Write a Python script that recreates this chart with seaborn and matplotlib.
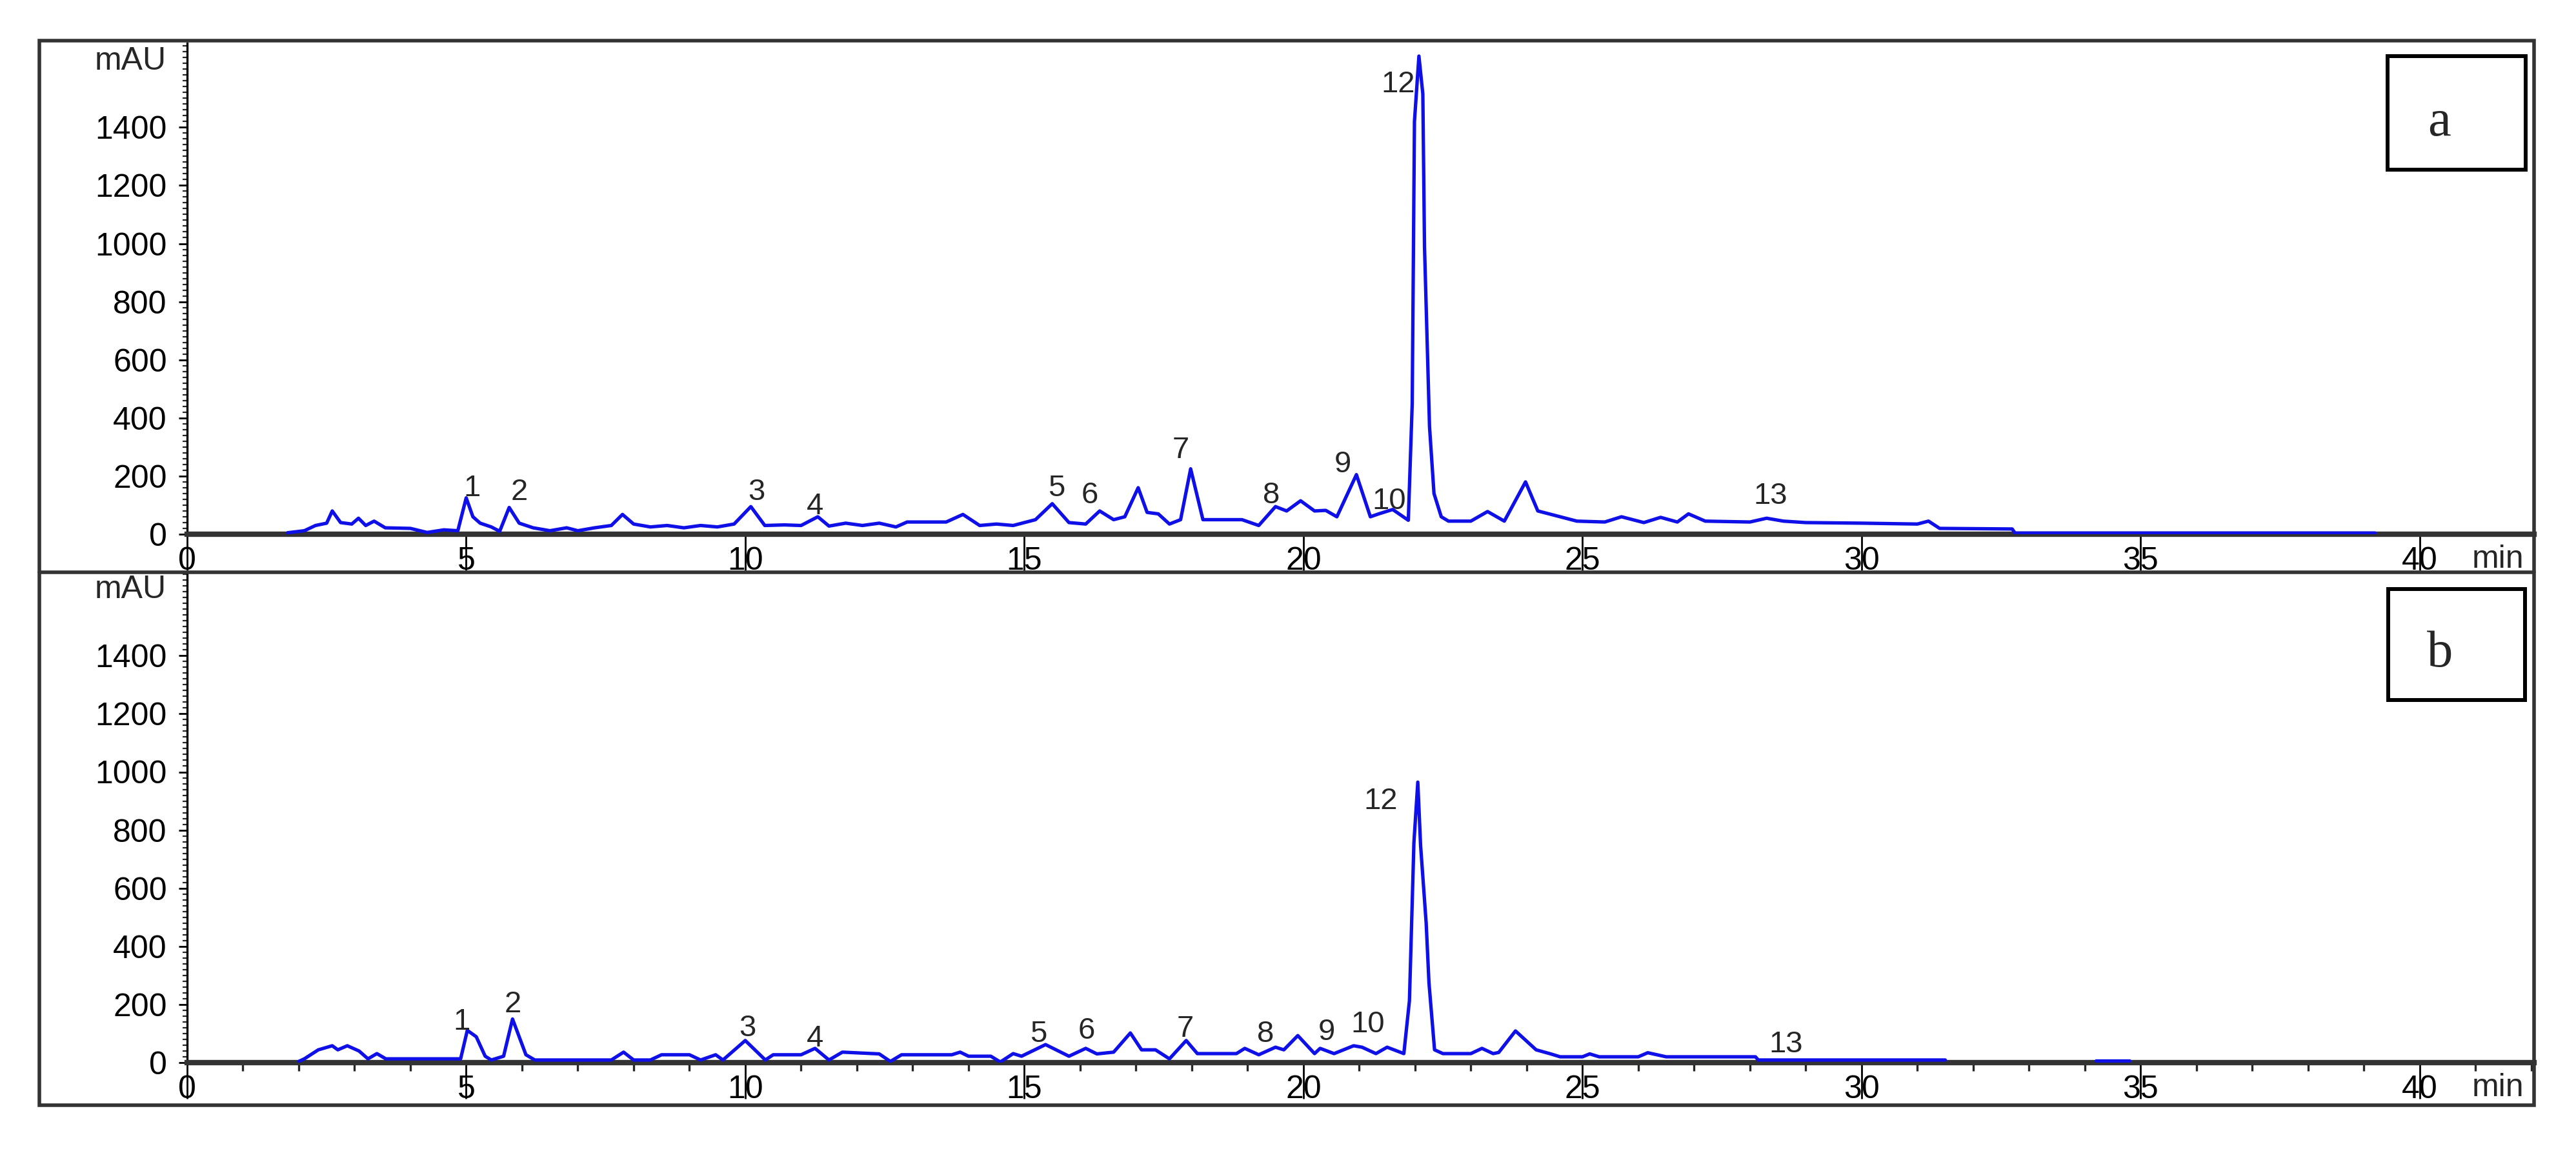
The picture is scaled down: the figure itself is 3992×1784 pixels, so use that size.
import matplotlib
matplotlib.use("Agg")
import matplotlib.pyplot as plt
import pandas as pd
import seaborn as sns
from matplotlib.lines import Line2D
from matplotlib.patches import Rectangle
from matplotlib.ticker import MultipleLocator, NullLocator

# chromatogram a (retention time in min, absorbance in mAU)
time_a = [1.8, 2.1, 2.3, 2.5, 2.6, 2.75, 2.95, 3.07, 3.2, 3.35, 3.55, 4.0, 4.3, 4.6, 4.85,
          5.0, 5.12, 5.25, 5.45, 5.6, 5.77, 5.95, 6.2, 6.5, 6.8, 7.0, 7.3, 7.6, 7.8, 8.0,
          8.3, 8.6, 8.9, 9.2, 9.5, 9.8, 10.1, 10.35, 10.7, 11.0, 11.3, 11.5, 11.8, 12.1, 12.4,
          12.7, 12.9, 13.6, 13.9, 14.2, 14.5, 14.8, 15.2, 15.5, 15.8, 16.1, 16.35, 16.6, 16.8, 17.04,
          17.2, 17.4, 17.6, 17.8, 17.98, 18.2, 18.9, 19.2, 19.5, 19.7, 19.95, 20.2, 20.4, 20.6, 20.95,
          21.2, 21.35, 21.6, 21.88, 21.95, 21.99, 22.07, 22.14, 22.17, 22.26, 22.34, 22.47, 22.6, 23.0, 23.3,
          23.6, 23.98, 24.2, 24.5, 24.7, 24.9, 25.4, 25.7, 26.1, 26.4, 26.7, 26.9, 27.2, 28.0, 28.3,
          28.6, 29.0, 30.0, 31.0, 31.2, 31.4, 32.7, 32.75, 39.2]
mau_a = [5, 12, 30, 38, 80, 40, 35, 55, 30, 45, 22, 20, 6, 15, 12,
         125, 60, 38, 25, 10, 92, 38, 22, 12, 22, 12, 22, 30, 68, 35,
         25, 30, 22, 30, 25, 35, 95, 30, 32, 30, 60, 28, 38, 30, 38,
         25, 42, 42, 68, 30, 35, 30, 50, 105, 40, 35, 80, 50, 60, 160,
         75, 70, 35, 50, 225, 50, 50, 30, 95, 80, 115, 80, 82, 60, 205,
         60, 70, 85, 48, 450, 1420, 1645, 1515, 990, 370, 140, 60, 45, 45, 78,
         45, 180, 80, 65, 55, 45, 42, 60, 40, 58, 42, 70, 45, 42, 55,
         45, 40, 38, 35, 45, 20, 18, 4, 4]

# chromatogram b
time_b = [2.0, 2.1, 2.35, 2.6, 2.7, 2.87, 3.08, 3.24, 3.4, 3.56, 4.9, 5.02, 5.18, 5.34, 5.45,
          5.67, 5.83, 6.07, 6.23, 7.6, 7.82, 8.0, 8.3, 8.5, 9.0, 9.2, 9.47, 9.6, 10.0, 10.36,
          10.5, 11.0, 11.25, 11.5, 11.74, 12.4, 12.6, 12.8, 13.7, 13.85, 14.0, 14.4, 14.57, 14.8, 14.95,
          15.38, 15.8, 16.1, 16.3, 16.6, 16.9, 17.1, 17.35, 17.6, 17.9, 18.1, 18.8, 18.95, 19.2, 19.5,
          19.65, 19.9, 20.2, 20.3, 20.55, 20.9, 21.05, 21.3, 21.5, 21.8, 21.9, 21.98, 22.05, 22.1, 22.2,
          22.25, 22.35, 22.5, 23.0, 23.2, 23.4, 23.5, 23.8, 24.17, 24.43, 24.6, 25.0, 25.13, 25.3, 26.0,
          26.17, 26.5, 28.1, 28.15, 31.5]
mau_b = [4, 13, 44, 58, 44, 58, 40, 13, 31, 13, 13, 111, 89, 22, 9,
         22, 150, 27, 9, 9, 36, 9, 9, 27, 27, 9, 27, 9, 76, 9,
         27, 27, 49, 9, 36, 30, 4, 27, 27, 36, 22, 22, 2, 31, 22,
         62, 22, 49, 30, 36, 102, 44, 44, 13, 76, 31, 31, 49, 27, 53,
         44, 93, 31, 49, 31, 58, 53, 31, 53, 31, 213, 756, 965, 747, 480,
         275, 44, 31, 31, 49, 31, 35, 109, 44, 30, 20, 20, 30, 20, 20,
         34, 20, 20, 9, 9]
time_b_tail = [34.2, 34.8]
mau_b_tail = [6, 6]

# numbered peak labels (name, time, height of label)
peaks_a = ["1", "2", "3", "4", "5", "6", "7", "8", "9", "10", "12", "13"]
peak_t_a = [5.1, 5.95, 10.2, 11.25, 15.58, 16.17, 17.8, 19.43, 20.7, 21.54, 21.7, 28.37]
peak_v_a = [158, 144, 144, 95, 158, 133, 289, 133, 240, 113, 1547, 131]

peaks_b = ["1", "2", "3", "4", "5", "6", "7", "8", "9", "10", "12", "13"]
peak_t_b = [4.92, 5.84, 10.04, 11.25, 15.25, 16.12, 17.88, 19.32, 20.42, 21.15, 21.38, 28.65]
peak_v_b = [140, 200, 118, 82, 98, 108, 116, 98, 104, 130, 898, 62]

x_ticks = [0, 5, 10, 15, 20, 25, 30, 35, 40]
y_ticks = [0, 200, 400, 600, 800, 1000, 1200, 1400]

W, H = 3992, 1784
BLUE = "#0f0fe8"
FRAME = "#333333"
Y_TOP = 1690
PX_PER_MAU = 0.4505
X_LEFT, X_RIGHT = 290, 3927
X_MAX = 42.05


def fx(px):
    return px / W


def fy(py):
    return 1 - py / H


def draw_panel(fig, zero_px, times, values, names, lt, lv, minor_x, tail=None):
    ax = fig.add_axes([fx(X_LEFT), fy(zero_px), (X_RIGHT - X_LEFT) / W, Y_TOP * PX_PER_MAU / H])
    df = pd.DataFrame({"time": times, "mAU": values})
    sns.lineplot(data=df, x="time", y="mAU", ax=ax, color=BLUE, lw=3.8,
                 estimator=None, sort=False, zorder=3)
    if tail is not None:
        sns.lineplot(x=tail[0], y=tail[1], ax=ax, color=BLUE, lw=3.8,
                     estimator=None, sort=False, zorder=3)
    ax.set_xlim(0, X_MAX)
    ax.set_ylim(0, Y_TOP)
    ax.set_xlabel("")
    ax.set_ylabel("")
    ax.patch.set_alpha(0)

    for side in ["top", "right"]:
        ax.spines[side].set_visible(False)
    ax.spines["left"].set_linewidth(2.4)
    ax.spines["left"].set_color("black")
    ax.spines["bottom"].set_linewidth(6)
    ax.spines["bottom"].set_color("#333333")

    ax.set_yticks(y_ticks)
    ax.yaxis.set_minor_locator(MultipleLocator(20))
    ax.tick_params(axis="y", which="major", left=True, direction="out", length=9.5,
                   width=2, pad=13, labelsize=36, colors="black")
    ax.tick_params(axis="y", which="minor", left=True, direction="out", length=5, width=1.6)

    ax.set_xticks(x_ticks)
    ax.tick_params(axis="x", which="major", bottom=True, direction="out", length=40,
                   width=2, pad=-26, labelsize=36, colors="black")
    if minor_x:
        ax.xaxis.set_minor_locator(MultipleLocator(1))
        ax.tick_params(axis="x", which="minor", bottom=True, direction="out", length=9, width=2.4)
    else:
        ax.xaxis.set_minor_locator(NullLocator())

    ax.text(-0.37, 1628, "mAU", ha="right", va="center", fontsize=36)
    ax.text(41.4, -86, "min", ha="center", va="center", fontsize=36)

    for name, t, v in zip(names, lt, lv):
        ax.text(t, v, name, ha="center", va="center", fontsize=34)
    return ax


def main():
    sns.set_style("white")
    plt.rcParams["font.family"] = ["Liberation Sans", "DejaVu Sans"]

    fig = plt.figure(figsize=(W / 100, H / 100), dpi=100)

    draw_panel(fig, 828, time_a, mau_a, peaks_a, peak_t_a, peak_v_a, minor_x=False)
    draw_panel(fig, 1647, time_b, mau_b, peaks_b, peak_t_b, peak_v_b, minor_x=True,
               tail=(time_b_tail, mau_b_tail))

    # outer frame and separator between the two chromatograms
    fig.add_artist(Rectangle((fx(61), fy(1713)), (3927 - 61) / W, (1713 - 63) / H,
                             transform=fig.transFigure, fill=False, lw=4, ec=FRAME))
    fig.add_artist(Line2D([fx(61), fx(3927)], [fy(887), fy(887)],
                          transform=fig.transFigure, lw=4, color=FRAME))

    # panel letters in boxes
    for letter, (x0, y0, x1, y1), base in [("a", (3700, 87, 3914, 263), 210),
                                           ("b", (3701, 913, 3913, 1085), 1033)]:
        fig.add_artist(Rectangle((fx(x0), fy(y1)), (x1 - x0) / W, (y1 - y0) / H,
                                 transform=fig.transFigure, fill=False, lw=4.3, ec="black"))
        fig.text(fx(x0 + 80), fy(base), letter, ha="center", va="baseline",
                 fontsize=58, family="Liberation Serif")

    fig.savefig("out.png", dpi=100, facecolor="white")


if __name__ == "__main__":
    main()
